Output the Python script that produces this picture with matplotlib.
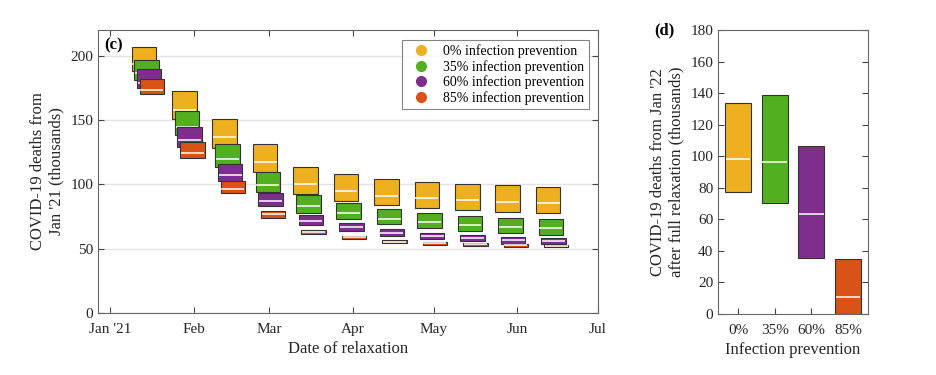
import datetime as dt
import matplotlib
matplotlib.use('Agg')
import matplotlib.pyplot as plt
from matplotlib.lines import Line2D

plt.rcParams['font.family'] = ['Liberation Serif', 'DejaVu Serif']
plt.rcParams['mathtext.fontset'] = 'stix'

# relaxation dates (every 15 days from 15 Jan 2021)
relax_dates = ['2021-01-15', '2021-01-30', '2021-02-14', '2021-03-01', '2021-03-16',
               '2021-03-31', '2021-04-15', '2021-04-30', '2021-05-15', '2021-05-30',
               '2021-06-14']

prevention = ['0%', '35%', '60%', '85%']
colors = ['#EDB120', '#52B020', '#7E2F8E', '#D95319']

# deaths from Jan '21 (thousands): upper, median, lower per relaxation date
upper_0 = [206.6, 172.7, 151.1, 131.6, 113.7, 108.0, 104.1, 102.0, 100.5, 99.4, 98.1]
median_0 = [193.9, 158.1, 136.8, 117.6, 100.2, 95.0, 91.1, 89.3, 87.8, 86.4, 85.7]
lower_0 = [188.2, 150.9, 128.5, 109.6, 92.7, 87.2, 83.6, 81.5, 80.0, 78.7, 77.6]

upper_35 = [197.0, 157.3, 131.4, 109.3, 91.7, 85.7, 81.0, 77.6, 75.8, 74.0, 73.2]
median_35 = [186.4, 144.6, 119.9, 99.5, 83.3, 77.6, 73.4, 70.9, 68.8, 67.0, 66.0]
lower_35 = [180.9, 138.4, 113.5, 93.7, 77.6, 73.0, 69.0, 66.4, 64.1, 62.3, 60.7]

upper_60 = [189.3, 144.6, 116.0, 93.2, 76.0, 70.1, 65.4, 62.5, 60.5, 59.2, 58.2]
median_60 = [178.9, 134.2, 107.2, 87.0, 71.6, 66.7, 62.0, 59.7, 58.2, 56.6, 55.8]
lower_60 = [175.0, 129.0, 103.0, 83.3, 68.3, 63.9, 59.7, 57.6, 55.8, 54.0, 53.5]

upper_85 = [182.0, 132.6, 102.8, 79.2, 64.6, 60.0, 56.6, 55.0, 54.3, 53.5, 53.0]
median_85 = [173.4, 124.4, 96.6, 77.0, 63.1, 58.9, 55.5, 54.3, 53.5, 52.7, 52.2]
lower_85 = [170.0, 120.5, 93.2, 74.2, 61.3, 57.9, 54.8, 53.2, 52.4, 51.6, 51.4]

# deaths from Jan '22 after full relaxation (thousands)
final_upper = [133.7, 138.8, 106.5, 34.7]
final_median = [98.4, 96.3, 63.2, 10.8]
final_lower = [77.3, 70.3, 35.7, 0.0]

month_ticks = ['2021-01-01', '2021-02-01', '2021-03-01', '2021-04-01',
               '2021-05-01', '2021-06-01', '2021-07-01']
month_labels = ["Jan '21", 'Feb', 'Mar', 'Apr', 'May', 'Jun', 'Jul']

start = dt.date(2021, 1, 1)
def day(s):
    return (dt.date.fromisoformat(s) - start).days

days = [day(d) for d in relax_dates]
series = [(upper_0, median_0, lower_0), (upper_35, median_35, lower_35),
          (upper_60, median_60, lower_60), (upper_85, median_85, lower_85)]

fig = plt.figure(figsize=(9.37, 3.75), dpi=100)
ax = fig.add_axes([0.1046, 0.1653, 0.5336, 0.7547])
ax2 = fig.add_axes([0.7663, 0.1627, 0.1601, 0.7573])

edge = '#333333'
width = 9.1
offsets = [-1.5, -0.5, 0.5, 1.5]

for i, (up, med, lo) in enumerate(series):
    xs = [d + offsets[i] for d in days]
    ax.bar(xs, [u - l for u, l in zip(up, lo)], bottom=lo, width=width,
           color=colors[i], edgecolor=edge, linewidth=0.8, zorder=3 + i)
    ax.hlines(med, [x - width / 2 + 0.3 for x in xs], [x + width / 2 - 0.3 for x in xs],
              colors='white', linewidth=1.1, zorder=3.5 + i)

ax.set_xlim(-4.5, 181)
ax.set_ylim(0, 220)
ax.set_xticks([day(d) for d in month_ticks])
ax.set_xticklabels(month_labels)
ax.set_yticks([0, 50, 100, 150, 200])
ax.yaxis.grid(True, color='#e3e3e3', linewidth=1.0, zorder=0)
ax.set_axisbelow(True)
ax.tick_params(direction='in', top=True, right=True, labelsize=11, length=4,
               width=0.8, colors='#444444', labelcolor='#262626')
ax.tick_params(axis='x', pad=7)
for s in ax.spines.values():
    s.set_color('#666666')
    s.set_linewidth(0.8)
ax.set_xlabel('Date of relaxation', fontsize=12, color='#262626', labelpad=4)
ax.set_ylabel("COVID-19 deaths from\nJan '21 (thousands)", fontsize=12, color='#262626')
ax.text(0.012, 0.975, '(c)', transform=ax.transAxes, fontsize=12, fontweight='bold',
        va='top', ha='left')

handles = [Line2D([], [], marker='o', linestyle='none', markersize=7,
                  markerfacecolor=c, markeredgecolor=c) for c in colors]
labels = [f'{p} infection prevention' for p in prevention]
leg = ax.legend(handles, labels, loc='upper right', bbox_to_anchor=(0.982, 0.966),
                fontsize=10, frameon=True, fancybox=False, borderpad=0.35,
                labelspacing=0.12, handletextpad=0.6, borderaxespad=0)
leg.get_frame().set_edgecolor('#666666')
leg.get_frame().set_linewidth(0.8)

# right panel
pos = [1, 2, 3, 4]
bw = 0.71
ax2.bar(pos, [u - l for u, l in zip(final_upper, final_lower)], bottom=final_lower,
        width=bw, color=colors, edgecolor=edge, linewidth=0.8, zorder=3)
ax2.hlines(final_median, [p - bw / 2 + 0.02 for p in pos], [p + bw / 2 - 0.02 for p in pos],
           colors='white', linewidth=1.1, zorder=4)
ax2.set_xlim(0.455, 4.545)
ax2.set_ylim(0, 180)
ax2.set_xticks(pos)
ax2.set_xticklabels(prevention)
ax2.set_yticks(range(0, 181, 20))
ax2.tick_params(direction='in', right=True, labelsize=11, length=4, width=0.8,
                colors='#444444', labelcolor='#262626')
ax2.tick_params(axis='x', pad=7)
for s in ax2.spines.values():
    s.set_color('#666666')
    s.set_linewidth(0.8)
ax2.set_xlabel('Infection prevention', fontsize=12, color='#262626', labelpad=4)
ax2.set_ylabel("COVID-19 deaths from Jan '22\nafter full relaxation (thousands)",
               fontsize=12, color='#262626')
fig.text(0.698, 0.92, '(d)', fontsize=12, fontweight='bold', va='center', ha='left')

fig.savefig('out.png', dpi=100)
